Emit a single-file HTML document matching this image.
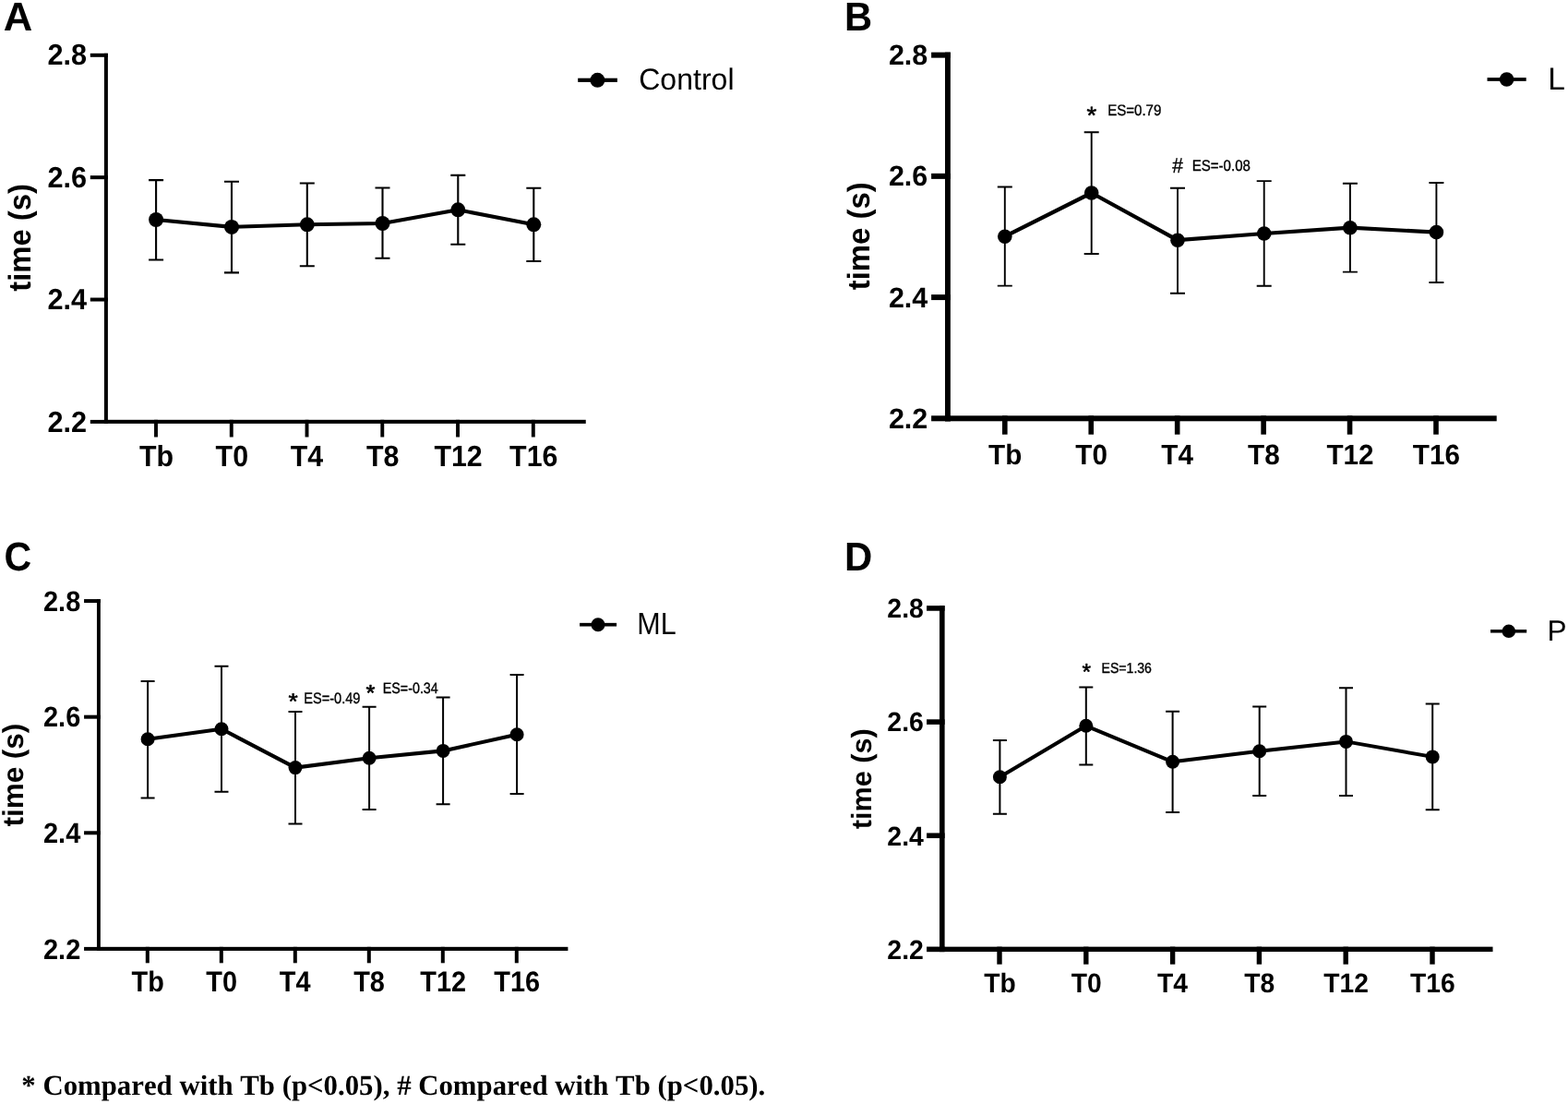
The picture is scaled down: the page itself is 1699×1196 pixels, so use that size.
<!DOCTYPE html>
<html><head><meta charset="utf-8"><title>time (s) – Tb to T16</title>
<style>html,body{margin:0;padding:0;background:#fff;width:1699px;height:1196px;overflow:hidden;}
svg{display:block;font-kerning:none;}</style></head>
<body><svg width="1699" height="1196" viewBox="0 0 1699 1196">
<rect width="1699" height="1196" fill="#fff"/>
<g fill="#000" text-rendering="geometricPrecision">
<rect x="112.90" y="57.80" width="4.00" height="401.10"/>
<rect x="97.80" y="57.80" width="19.10" height="4.00"/>
<rect x="97.80" y="190.17" width="19.10" height="4.00"/>
<rect x="97.80" y="322.53" width="19.10" height="4.00"/>
<rect x="97.80" y="454.90" width="19.10" height="4.00"/>
<rect x="112.90" y="454.80" width="521.85" height="4.10"/>
<rect x="167.05" y="454.80" width="3.90" height="18.70"/>
<rect x="248.81" y="454.80" width="3.90" height="18.70"/>
<rect x="330.57" y="454.80" width="3.90" height="18.70"/>
<rect x="412.33" y="454.80" width="3.90" height="18.70"/>
<rect x="494.09" y="454.80" width="3.90" height="18.70"/>
<rect x="575.85" y="454.80" width="3.90" height="18.70"/>
<text transform="translate(51.47,70.35) scale(1.0000,1.0360)" font-size="30.70" font-weight="bold" font-family='"Liberation Sans", Arial, Helvetica, sans-serif'>2.8</text>
<text transform="translate(51.47,202.72) scale(1.0000,1.0360)" font-size="30.70" font-weight="bold" font-family='"Liberation Sans", Arial, Helvetica, sans-serif'>2.6</text>
<text transform="translate(51.47,335.23) scale(1.0000,1.0360)" font-size="30.70" font-weight="bold" font-family='"Liberation Sans", Arial, Helvetica, sans-serif'>2.4</text>
<text transform="translate(51.47,467.60) scale(1.0000,1.0360)" font-size="30.70" font-weight="bold" font-family='"Liberation Sans", Arial, Helvetica, sans-serif'>2.2</text>
<text transform="translate(150.98,505.20) scale(1.0000,1.0500)" font-size="30.40" font-weight="bold" font-family='"Liberation Sans", Arial, Helvetica, sans-serif'>Tb</text>
<text transform="translate(233.57,505.20) scale(1.0000,1.0500)" font-size="30.40" font-weight="bold" font-family='"Liberation Sans", Arial, Helvetica, sans-serif'>T0</text>
<text transform="translate(314.79,505.20) scale(1.0000,1.0500)" font-size="30.40" font-weight="bold" font-family='"Liberation Sans", Arial, Helvetica, sans-serif'>T4</text>
<text transform="translate(396.94,505.20) scale(1.0000,1.0500)" font-size="30.40" font-weight="bold" font-family='"Liberation Sans", Arial, Helvetica, sans-serif'>T8</text>
<text transform="translate(470.39,505.20) scale(1.0000,1.0500)" font-size="30.40" font-weight="bold" font-family='"Liberation Sans", Arial, Helvetica, sans-serif'>T12</text>
<text transform="translate(552.09,505.20) scale(1.0000,1.0500)" font-size="30.40" font-weight="bold" font-family='"Liberation Sans", Arial, Helvetica, sans-serif'>T16</text>
<text transform="translate(32.67,315.70) rotate(-90) scale(1.0000,1.0327)" font-size="32.80" font-weight="bold" font-family='"Liberation Sans", Arial, Helvetica, sans-serif'>time (s)</text>
<text transform="translate(3.76,32.80) scale(1.0032,1.0000)" font-size="43.46" font-weight="bold" font-family='"Liberation Sans", Arial, Helvetica, sans-serif'>A</text>
<path d="M169.10 195.10V281.50M161.10 195.10H177.10M161.10 281.50H177.10" stroke="#000" stroke-width="2.1" fill="none"/>
<path d="M251.00 196.80V295.40M243.00 196.80H259.00M243.00 295.40H259.00" stroke="#000" stroke-width="2.1" fill="none"/>
<path d="M332.80 198.50V288.30M324.80 198.50H340.80M324.80 288.30H340.80" stroke="#000" stroke-width="2.1" fill="none"/>
<path d="M414.50 203.50V279.80M406.50 203.50H422.50M406.50 279.80H422.50" stroke="#000" stroke-width="2.1" fill="none"/>
<path d="M496.30 189.90V264.80M488.30 189.90H504.30M488.30 264.80H504.30" stroke="#000" stroke-width="2.1" fill="none"/>
<path d="M578.30 203.80V283.00M570.30 203.80H586.30M570.30 283.00H586.30" stroke="#000" stroke-width="2.1" fill="none"/>
<path d="M169.10 238.00 L251.00 245.90 L332.80 243.30 L414.50 242.00 L496.30 227.30 L578.30 243.30" stroke="#000" stroke-width="4.1" fill="none" stroke-linejoin="round"/>
<circle cx="169.10" cy="238.00" r="8"/>
<circle cx="251.00" cy="245.90" r="8"/>
<circle cx="332.80" cy="243.30" r="8"/>
<circle cx="414.50" cy="242.00" r="8"/>
<circle cx="496.30" cy="227.30" r="8"/>
<circle cx="578.30" cy="243.30" r="8"/>
<rect x="626.20" y="84.70" width="42.70" height="4.20"/>
<circle cx="647.40" cy="86.80" r="8"/>
<text transform="translate(692.17,97.28) scale(0.9812,1.0000)" font-size="32.68" font-family='"Liberation Sans", Arial, Helvetica, sans-serif'>Control</text>
<rect x="1024.00" y="56.65" width="5.86" height="399.65"/>
<rect x="1009.10" y="56.65" width="20.76" height="6.00"/>
<rect x="1009.10" y="187.87" width="20.76" height="6.00"/>
<rect x="1009.10" y="319.08" width="20.76" height="6.00"/>
<rect x="1009.10" y="450.30" width="20.76" height="6.00"/>
<rect x="1024.00" y="450.33" width="597.70" height="5.97"/>
<rect x="1086.00" y="450.33" width="5.60" height="20.37"/>
<rect x="1179.44" y="450.33" width="5.60" height="20.37"/>
<rect x="1272.88" y="450.33" width="5.60" height="20.37"/>
<rect x="1366.32" y="450.33" width="5.60" height="20.37"/>
<rect x="1459.76" y="450.33" width="5.60" height="20.37"/>
<rect x="1553.20" y="450.33" width="5.60" height="20.37"/>
<text transform="translate(962.89,70.25) scale(1.0000,1.0100)" font-size="30.50" font-weight="bold" font-family='"Liberation Sans", Arial, Helvetica, sans-serif'>2.8</text>
<text transform="translate(962.89,201.47) scale(1.0000,1.0100)" font-size="30.50" font-weight="bold" font-family='"Liberation Sans", Arial, Helvetica, sans-serif'>2.6</text>
<text transform="translate(962.89,332.83) scale(1.0000,1.0100)" font-size="30.50" font-weight="bold" font-family='"Liberation Sans", Arial, Helvetica, sans-serif'>2.4</text>
<text transform="translate(962.89,464.05) scale(1.0000,1.0100)" font-size="30.50" font-weight="bold" font-family='"Liberation Sans", Arial, Helvetica, sans-serif'>2.2</text>
<text transform="translate(1071.10,502.90) scale(1.0000,1.0330)" font-size="29.70" font-weight="bold" font-family='"Liberation Sans", Arial, Helvetica, sans-serif'>Tb</text>
<text transform="translate(1165.35,502.90) scale(1.0000,1.0330)" font-size="29.70" font-weight="bold" font-family='"Liberation Sans", Arial, Helvetica, sans-serif'>T0</text>
<text transform="translate(1258.26,502.90) scale(1.0000,1.0330)" font-size="29.70" font-weight="bold" font-family='"Liberation Sans", Arial, Helvetica, sans-serif'>T4</text>
<text transform="translate(1352.08,502.90) scale(1.0000,1.0330)" font-size="29.70" font-weight="bold" font-family='"Liberation Sans", Arial, Helvetica, sans-serif'>T8</text>
<text transform="translate(1437.40,502.90) scale(1.0000,1.0330)" font-size="29.70" font-weight="bold" font-family='"Liberation Sans", Arial, Helvetica, sans-serif'>T12</text>
<text transform="translate(1530.78,502.90) scale(1.0000,1.0330)" font-size="29.70" font-weight="bold" font-family='"Liberation Sans", Arial, Helvetica, sans-serif'>T16</text>
<text transform="translate(942.29,314.30) rotate(-90) scale(1.0000,1.0220)" font-size="32.94" font-weight="bold" font-family='"Liberation Sans", Arial, Helvetica, sans-serif'>time (s)</text>
<text transform="translate(915.11,33.00) scale(0.9520,1.0000)" font-size="43.75" font-weight="bold" font-family='"Liberation Sans", Arial, Helvetica, sans-serif'>B</text>
<path d="M1088.80 202.50V309.60M1080.80 202.50H1096.80M1080.80 309.60H1096.80" stroke="#000" stroke-width="1.9" fill="none"/>
<path d="M1182.70 143.30V275.00M1174.70 143.30H1190.70M1174.70 275.00H1190.70" stroke="#000" stroke-width="1.9" fill="none"/>
<path d="M1276.00 203.80V317.70M1268.00 203.80H1284.00M1268.00 317.70H1284.00" stroke="#000" stroke-width="1.9" fill="none"/>
<path d="M1369.70 196.10V309.80M1361.70 196.10H1377.70M1361.70 309.80H1377.70" stroke="#000" stroke-width="1.9" fill="none"/>
<path d="M1462.90 198.70V294.60M1454.90 198.70H1470.90M1454.90 294.60H1470.90" stroke="#000" stroke-width="1.9" fill="none"/>
<path d="M1556.40 198.00V306.00M1548.40 198.00H1564.40M1548.40 306.00H1564.40" stroke="#000" stroke-width="1.9" fill="none"/>
<path d="M1088.80 256.20 L1182.70 209.00 L1276.00 260.20 L1369.70 253.00 L1462.90 246.70 L1556.40 251.60" stroke="#000" stroke-width="4.2" fill="none" stroke-linejoin="round"/>
<circle cx="1088.80" cy="256.20" r="7.8"/>
<circle cx="1182.70" cy="209.00" r="7.8"/>
<circle cx="1276.00" cy="260.20" r="7.8"/>
<circle cx="1369.70" cy="253.00" r="7.8"/>
<circle cx="1462.90" cy="246.70" r="7.8"/>
<circle cx="1556.40" cy="251.60" r="7.8"/>
<rect x="1611.50" y="84.15" width="42.20" height="3.70"/>
<circle cx="1632.60" cy="86.00" r="7.8"/>
<text transform="translate(1677.25,96.60) scale(0.9785,1.0000)" font-size="34.30" font-family='"Liberation Sans", Arial, Helvetica, sans-serif'>L</text>
<text transform="translate(1177.56,133.72) scale(1.0295,1.0000)" font-size="26.63" font-family='"Liberation Sans", Arial, Helvetica, sans-serif' stroke="#000" stroke-width="0.591" stroke-linejoin="round">*</text>
<text transform="translate(1200.14,125.36) scale(0.9413,1.0372)" font-size="16.00" font-family='"Liberation Sans", Arial, Helvetica, sans-serif' stroke="#000" stroke-width="0.354" stroke-linejoin="round">ES=0.79</text>
<text transform="translate(1270.26,187.05) scale(0.9163,1.0000)" font-size="22.95" font-family='"Liberation Sans", Arial, Helvetica, sans-serif' stroke="#000" stroke-width="0.313" stroke-linejoin="round">#</text>
<text transform="translate(1291.74,184.56) scale(0.9402,1.0461)" font-size="16.00" font-family='"Liberation Sans", Arial, Helvetica, sans-serif' stroke="#000" stroke-width="0.352" stroke-linejoin="round">ES=-0.08</text>
<rect x="104.97" y="649.07" width="3.86" height="380.91"/>
<rect x="91.08" y="649.07" width="17.75" height="4.00"/>
<rect x="91.08" y="774.68" width="17.75" height="4.00"/>
<rect x="91.08" y="900.29" width="17.75" height="4.00"/>
<rect x="91.08" y="1025.90" width="17.75" height="4.00"/>
<rect x="104.97" y="1025.83" width="510.43" height="4.15"/>
<rect x="157.80" y="1025.83" width="4.00" height="17.47"/>
<rect x="237.80" y="1025.83" width="4.00" height="17.47"/>
<rect x="317.80" y="1025.83" width="4.00" height="17.47"/>
<rect x="397.80" y="1025.83" width="4.00" height="17.47"/>
<rect x="477.80" y="1025.83" width="4.00" height="17.47"/>
<rect x="557.80" y="1025.83" width="4.00" height="17.47"/>
<text transform="translate(47.00,661.62) scale(1.0000,1.0680)" font-size="28.97" font-weight="bold" font-family='"Liberation Sans", Arial, Helvetica, sans-serif'>2.8</text>
<text transform="translate(47.00,787.23) scale(1.0000,1.0680)" font-size="28.97" font-weight="bold" font-family='"Liberation Sans", Arial, Helvetica, sans-serif'>2.6</text>
<text transform="translate(47.00,912.99) scale(1.0000,1.0680)" font-size="28.97" font-weight="bold" font-family='"Liberation Sans", Arial, Helvetica, sans-serif'>2.4</text>
<text transform="translate(47.00,1038.60) scale(1.0000,1.0680)" font-size="28.97" font-weight="bold" font-family='"Liberation Sans", Arial, Helvetica, sans-serif'>2.2</text>
<text transform="translate(142.58,1073.90) scale(1.0000,1.0760)" font-size="28.90" font-weight="bold" font-family='"Liberation Sans", Arial, Helvetica, sans-serif'>Tb</text>
<text transform="translate(223.37,1073.90) scale(1.0000,1.0760)" font-size="28.90" font-weight="bold" font-family='"Liberation Sans", Arial, Helvetica, sans-serif'>T0</text>
<text transform="translate(302.85,1073.90) scale(1.0000,1.0760)" font-size="28.90" font-weight="bold" font-family='"Liberation Sans", Arial, Helvetica, sans-serif'>T4</text>
<text transform="translate(383.22,1073.90) scale(1.0000,1.0760)" font-size="28.90" font-weight="bold" font-family='"Liberation Sans", Arial, Helvetica, sans-serif'>T8</text>
<text transform="translate(455.32,1073.90) scale(1.0000,1.0760)" font-size="28.90" font-weight="bold" font-family='"Liberation Sans", Arial, Helvetica, sans-serif'>T12</text>
<text transform="translate(535.26,1073.90) scale(1.0000,1.0760)" font-size="28.90" font-weight="bold" font-family='"Liberation Sans", Arial, Helvetica, sans-serif'>T16</text>
<text transform="translate(25.21,895.48) rotate(-90) scale(1.0000,1.0019)" font-size="31.42" font-weight="bold" font-family='"Liberation Sans", Arial, Helvetica, sans-serif'>time (s)</text>
<text transform="translate(4.41,617.87) scale(0.9397,1.0000)" font-size="43.78" font-weight="bold" font-family='"Liberation Sans", Arial, Helvetica, sans-serif'>C</text>
<path d="M160.10 738.00V864.40M152.60 738.00H167.60M152.60 864.40H167.60" stroke="#000" stroke-width="2" fill="none"/>
<path d="M240.00 721.70V857.70M232.50 721.70H247.50M232.50 857.70H247.50" stroke="#000" stroke-width="2" fill="none"/>
<path d="M320.00 771.00V892.50M312.50 771.00H327.50M312.50 892.50H327.50" stroke="#000" stroke-width="2" fill="none"/>
<path d="M400.10 765.70V877.00M392.60 765.70H407.60M392.60 877.00H407.60" stroke="#000" stroke-width="2" fill="none"/>
<path d="M480.10 755.60V871.30M472.60 755.60H487.60M472.60 871.30H487.60" stroke="#000" stroke-width="2" fill="none"/>
<path d="M560.10 730.90V860.00M552.60 730.90H567.60M552.60 860.00H567.60" stroke="#000" stroke-width="2" fill="none"/>
<path d="M160.10 800.80 L240.00 789.80 L320.00 831.60 L400.10 821.30 L480.10 813.40 L560.10 795.70" stroke="#000" stroke-width="4.1" fill="none" stroke-linejoin="round"/>
<circle cx="160.10" cy="800.80" r="7.5"/>
<circle cx="240.00" cy="789.80" r="7.5"/>
<circle cx="320.00" cy="831.60" r="7.5"/>
<circle cx="400.10" cy="821.30" r="7.5"/>
<circle cx="480.10" cy="813.40" r="7.5"/>
<circle cx="560.10" cy="795.70" r="7.5"/>
<rect x="628.10" y="674.85" width="40.00" height="3.70"/>
<circle cx="648.00" cy="676.70" r="7.5"/>
<text transform="translate(690.30,687.20) scale(0.9134,1.0000)" font-size="33.43" font-family='"Liberation Sans", Arial, Helvetica, sans-serif'>ML</text>
<text transform="translate(312.58,768.41) scale(1.0799,1.0000)" font-size="24.35" font-family='"Liberation Sans", Arial, Helvetica, sans-serif' stroke="#000" stroke-width="0.577" stroke-linejoin="round">*</text>
<text transform="translate(329.18,762.46) scale(0.9119,1.0461)" font-size="16.00" font-family='"Liberation Sans", Arial, Helvetica, sans-serif' stroke="#000" stroke-width="0.358" stroke-linejoin="round">ES=-0.49</text>
<text transform="translate(396.39,758.55) scale(1.0274,1.0000)" font-size="24.78" font-family='"Liberation Sans", Arial, Helvetica, sans-serif' stroke="#000" stroke-width="0.592" stroke-linejoin="round">*</text>
<text transform="translate(414.80,751.36) scale(0.8925,1.0284)" font-size="16.00" font-family='"Liberation Sans", Arial, Helvetica, sans-serif' stroke="#000" stroke-width="0.364" stroke-linejoin="round">ES=-0.34</text>
<rect x="1018.00" y="656.15" width="5.60" height="374.92"/>
<rect x="1004.06" y="656.15" width="19.54" height="5.60"/>
<rect x="1004.06" y="779.29" width="19.54" height="5.60"/>
<rect x="1004.06" y="902.43" width="19.54" height="5.60"/>
<rect x="1004.06" y="1025.57" width="19.54" height="5.60"/>
<rect x="1018.00" y="1025.66" width="599.50" height="5.41"/>
<rect x="1080.30" y="1025.66" width="5.40" height="19.04"/>
<rect x="1174.10" y="1025.66" width="5.40" height="19.04"/>
<rect x="1267.90" y="1025.66" width="5.40" height="19.04"/>
<rect x="1361.70" y="1025.66" width="5.40" height="19.04"/>
<rect x="1455.50" y="1025.66" width="5.40" height="19.04"/>
<rect x="1549.30" y="1025.66" width="5.40" height="19.04"/>
<text transform="translate(961.31,669.14) scale(1.0000,1.0300)" font-size="28.45" font-weight="bold" font-family='"Liberation Sans", Arial, Helvetica, sans-serif'>2.8</text>
<text transform="translate(961.31,792.28) scale(1.0000,1.0300)" font-size="28.45" font-weight="bold" font-family='"Liberation Sans", Arial, Helvetica, sans-serif'>2.6</text>
<text transform="translate(961.31,915.56) scale(1.0000,1.0300)" font-size="28.45" font-weight="bold" font-family='"Liberation Sans", Arial, Helvetica, sans-serif'>2.4</text>
<text transform="translate(961.31,1038.70) scale(1.0000,1.0300)" font-size="28.45" font-weight="bold" font-family='"Liberation Sans", Arial, Helvetica, sans-serif'>2.2</text>
<text transform="translate(1066.16,1074.80) scale(1.0000,1.0440)" font-size="28.25" font-weight="bold" font-family='"Liberation Sans", Arial, Helvetica, sans-serif'>Tb</text>
<text transform="translate(1160.74,1074.80) scale(1.0000,1.0440)" font-size="28.25" font-weight="bold" font-family='"Liberation Sans", Arial, Helvetica, sans-serif'>T0</text>
<text transform="translate(1254.03,1074.80) scale(1.0000,1.0440)" font-size="28.25" font-weight="bold" font-family='"Liberation Sans", Arial, Helvetica, sans-serif'>T4</text>
<text transform="translate(1348.19,1074.80) scale(1.0000,1.0440)" font-size="28.25" font-weight="bold" font-family='"Liberation Sans", Arial, Helvetica, sans-serif'>T8</text>
<text transform="translate(1434.27,1074.80) scale(1.0000,1.0440)" font-size="28.25" font-weight="bold" font-family='"Liberation Sans", Arial, Helvetica, sans-serif'>T12</text>
<text transform="translate(1528.01,1074.80) scale(1.0000,1.0440)" font-size="28.25" font-weight="bold" font-family='"Liberation Sans", Arial, Helvetica, sans-serif'>T16</text>
<text transform="translate(944.09,898.27) rotate(-90) scale(1.0000,0.9971)" font-size="30.63" font-weight="bold" font-family='"Liberation Sans", Arial, Helvetica, sans-serif'>time (s)</text>
<text transform="translate(915.10,617.90) scale(0.9642,1.0000)" font-size="43.46" font-weight="bold" font-family='"Liberation Sans", Arial, Helvetica, sans-serif'>D</text>
<path d="M1083.40 801.90V881.70M1075.90 801.90H1090.90M1075.90 881.70H1090.90" stroke="#000" stroke-width="2" fill="none"/>
<path d="M1176.80 744.40V828.40M1169.30 744.40H1184.30M1169.30 828.40H1184.30" stroke="#000" stroke-width="2" fill="none"/>
<path d="M1270.60 770.70V880.10M1263.10 770.70H1278.10M1263.10 880.10H1278.10" stroke="#000" stroke-width="2" fill="none"/>
<path d="M1364.70 765.60V861.90M1357.20 765.60H1372.20M1357.20 861.90H1372.20" stroke="#000" stroke-width="2" fill="none"/>
<path d="M1458.50 745.20V861.90M1451.00 745.20H1466.00M1451.00 861.90H1466.00" stroke="#000" stroke-width="2" fill="none"/>
<path d="M1552.20 762.50V877.30M1544.70 762.50H1559.70M1544.70 877.30H1559.70" stroke="#000" stroke-width="2" fill="none"/>
<path d="M1083.40 841.80 L1176.80 786.30 L1270.60 825.30 L1364.70 813.80 L1458.50 803.40 L1552.20 819.90" stroke="#000" stroke-width="4.0" fill="none" stroke-linejoin="round"/>
<circle cx="1083.40" cy="841.80" r="7.5"/>
<circle cx="1176.80" cy="786.30" r="7.5"/>
<circle cx="1270.60" cy="825.30" r="7.5"/>
<circle cx="1364.70" cy="813.80" r="7.5"/>
<circle cx="1458.50" cy="803.40" r="7.5"/>
<circle cx="1552.20" cy="819.90" r="7.5"/>
<rect x="1615.00" y="682.05" width="39.20" height="3.50"/>
<circle cx="1634.80" cy="683.80" r="7.3"/>
<text transform="translate(1676.51,693.70) scale(1.0008,1.0000)" font-size="31.54" font-family='"Liberation Sans", Arial, Helvetica, sans-serif'>P</text>
<text transform="translate(1172.50,736.35) scale(1.0051,1.0000)" font-size="24.50" font-family='"Liberation Sans", Arial, Helvetica, sans-serif' stroke="#000" stroke-width="0.598" stroke-linejoin="round">*</text>
<text transform="translate(1193.62,729.37) scale(0.8786,0.9843)" font-size="16.00" font-family='"Liberation Sans", Arial, Helvetica, sans-serif' stroke="#000" stroke-width="0.376" stroke-linejoin="round">ES=1.36</text>
<text transform="translate(23.32,1186.40) scale(1.0000,1.0000)" font-size="30.80" font-weight="bold" font-family='"Liberation Serif", "Times New Roman", serif'>* Compared with Tb (p&lt;0.05), # Compared with Tb (p&lt;0.05).</text>
</g></svg></body></html>
